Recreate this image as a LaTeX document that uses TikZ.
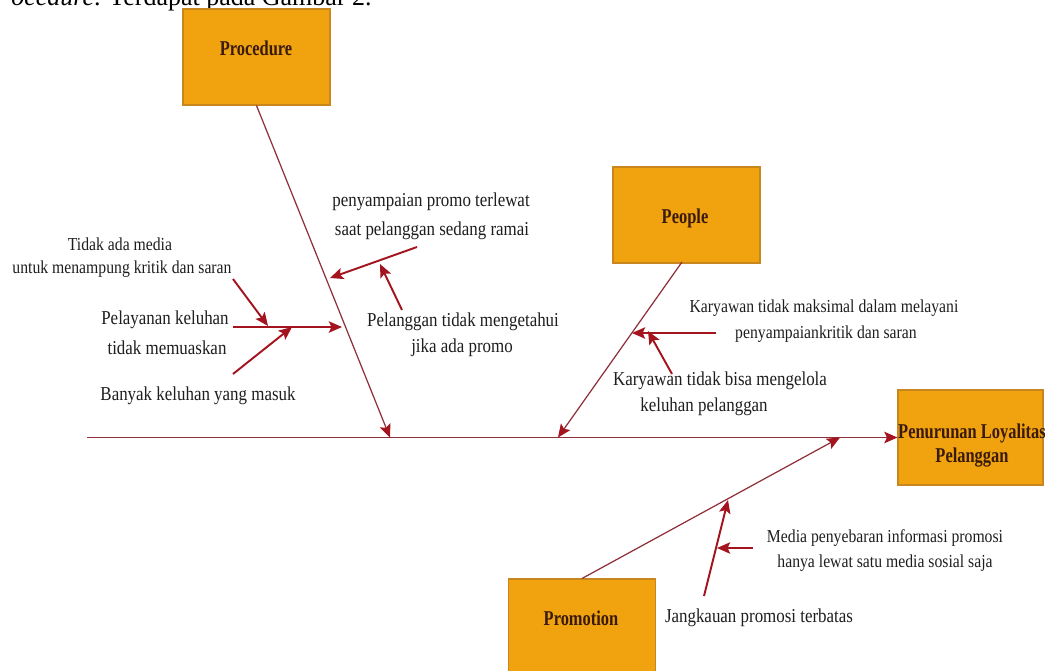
\documentclass[tikz,border=0pt]{standalone}
\usepackage{fontspec}
\setmainfont{Liberation Serif}
\newfontfamily\condf{Liberation Serif}[FakeStretch=0.86]
\newfontfamily\condbf{Liberation Serif}[FakeStretch=0.78]
\usetikzlibrary{arrows.meta}
\definecolor{boxfill}{HTML}{F0A30E}
\definecolor{boxline}{HTML}{C8861E}
\definecolor{bonecol}{HTML}{8E2F3A}
\definecolor{arrcol}{HTML}{A3141F}
\definecolor{txtcol}{HTML}{1E1E1E}
\definecolor{labcol}{HTML}{3A1A0C}
\tikzset{
  catbox/.style={draw=boxline, fill=boxfill, line width=0.6pt, inner sep=0pt,
    minimum width=2.94cm, minimum height=1.92cm},
  catlab/.style={font=\condbf\bfseries\fontsize{12}{14}\selectfont, text=labcol, inner sep=0pt},
  bigtxt/.style={font=\condf\fontsize{11.2}{13}\selectfont, text=txtcol, inner sep=0pt},
  smtxt/.style={font=\condf\fontsize{10.4}{12}\selectfont, text=txtcol, inner sep=0pt},
  tip/.style={-{Stealth[length=7.5pt,width=6.5pt,inset=1.5pt,color=arrcol]}},
  spine/.style={draw=bonecol, line width=0.9pt, tip},
  bone/.style={draw=bonecol, line width=0.7pt, tip},
  sub/.style={draw=arrcol, line width=1.1pt, tip},
}
\begin{document}
\begin{tikzpicture}[x=0.02cm, y=-0.02cm]
\useasboundingbox (0,0) rectangle (1045,670);

% cropped document text at the top
\node[font=\fontsize{14.8}{16}\selectfont, text=black, inner sep=0pt, anchor=base east] (doctext) at (372,5) {\textit{ocedure}. Terdapat pada Gambar 2.};

% category boxes
\node[catbox] (procbox) at (256.5,57) {};
\node[catlab] (proclab) at (256,48) {Procedure};
\node[catbox] (peopbox) at (686.5,215) {};
\node[catlab] (peoplab) at (685,218) {People};
\node[catbox] (promobox) at (582,627) {};
\node[catlab] (promolab) at (581,618) {Promotion};
\node[catbox, minimum width=2.9cm, minimum height=1.9cm] (effbox) at (970.5,437.5) {};
\node[catlab] (efflab1) at (972,433) {Penurunan Loyalitas};
\node[catlab] (efflab2) at (972,458) {Pelanggan};

% spine
\coordinate (spinestart) at (87,437.5);
\draw[spine] (spinestart) -- (effbox.west);

% main bones
\coordinate (procend) at (390,437.5);
\coordinate (peopstart) at (682,262);
\coordinate (peopend) at (558,437.5);
\coordinate (promoend) at (840,437.5);
\draw[bone] (procbox.south) -- (procend);
\draw[bone] (peopstart) -- (peopend);
\draw[bone] (promobox.north) -- (promoend);

% procedure texts
\node[bigtxt] (tA1) at (431,202) {penyampaian promo terlewat};
\node[bigtxt] (tA2) at (432,231) {saat pelanggan sedang ramai};
\node[smtxt] (tB1) at (120,244) {Tidak ada media};
\node[smtxt] (tB2) at (122,269) {untuk menampung kritik dan saran};
\node[bigtxt] (tC1) at (165,320) {Pelayanan keluhan};
\node[bigtxt] (tC2) at (167,348) {tidak memuaskan};
\node[bigtxt] (tD) at (198,396) {Banyak keluhan yang masuk};
\node[bigtxt] (tE1) at (463,322) {Pelanggan tidak mengetahui};
\node[bigtxt] (tE2) at (462,348) {jika ada promo};

% people texts
\node[smtxt] (tF1) at (824,308) {Karyawan tidak maksimal dalam melayani};
\node[smtxt] (tF2) at (826,334) {penyampaiankritik dan saran};
\node[bigtxt] (tG1) at (720,381) {Karyawan tidak bisa mengelola};
\node[bigtxt] (tG2) at (704,407) {keluhan pelanggan};

% promotion texts
\node[smtxt] (tH1) at (885,538) {Media penyebaran informasi promosi};
\node[smtxt] (tH2) at (885,563) {hanya lewat satu media sosial saja};
\node[bigtxt] (tI) at (759,618) {Jangkauan promosi terbatas};

% sub-cause arrows (procedure)
\coordinate (cA0) at (417,247);  \coordinate (cA1) at (330,278);
\coordinate (cE0) at (402,310);  \coordinate (cE1) at (380,264);
\coordinate (cC0) at (233,327);  \coordinate (cC1) at (342,327);
\coordinate (cB0) at (233,279);  \coordinate (cB1) at (268,326);
\coordinate (cD0) at (233,374);  \coordinate (cD1) at (292,327);
\draw[sub] (cA0) -- (cA1);
\draw[sub] (cE0) -- (cE1);
\draw[sub] (cC0) -- (cC1);
\draw[sub] (cB0) -- (cB1);
\draw[sub] (cD0) -- (cD1);

% sub-cause arrows (people)
\coordinate (cF0) at (716,333);  \coordinate (cF1) at (632,333);
\coordinate (cG0) at (672,374);  \coordinate (cG1) at (648,331);
\draw[sub] (cF0) -- (cF1);
\draw[sub] (cG0) -- (cG1);

% sub-cause arrows (promotion)
\coordinate (cI0) at (704,596);  \coordinate (cI1) at (728,500);
\coordinate (cH0) at (753,548);  \coordinate (cH1) at (717,548);
\draw[sub] (cI0) -- (cI1);
\draw[sub] (cH0) -- (cH1);
\end{tikzpicture}
\end{document}
